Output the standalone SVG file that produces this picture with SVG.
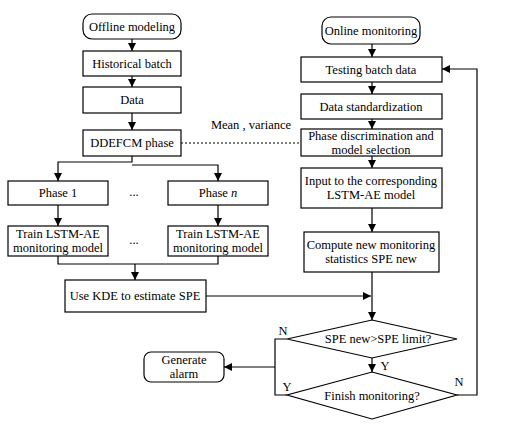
<svg xmlns="http://www.w3.org/2000/svg" width="514" height="425" viewBox="0 0 514 425" font-family="'Liberation Serif', 'Times New Roman', 'DejaVu Serif', serif">
<defs>
<marker id="ar" markerWidth="8" markerHeight="8" refX="8" refY="4" orient="auto" markerUnits="userSpaceOnUse">
<path d="M0,0 L8,4 L0,8 Z" fill="#000"/>
</marker>
<style>
.b{fill:#fff;stroke:#000;stroke-width:1.2}
.t{font-family:'Liberation Serif','Times New Roman','DejaVu Serif',serif;font-size:12.5px;fill:#000;text-anchor:middle}
.l{fill:none;stroke:#000;stroke-width:1.2}
.d{fill:none;stroke:#000;stroke-width:1;stroke-dasharray:2,2}
</style>
</defs>
<rect width="514" height="425" fill="#fff"/>
<g id="connectors">
<path class="l" d="M132,39 V51" marker-end="url(#ar)"/>
<path class="l" d="M132,76 V87" marker-end="url(#ar)"/>
<path class="l" d="M132,113 V130" marker-end="url(#ar)"/>
<path class="l" d="M132,156 V162 H58 V181" marker-end="url(#ar)"/>
<path class="l" d="M132,165 H218 V181" marker-end="url(#ar)"/>
<path class="l" d="M58,205 V226" marker-end="url(#ar)"/>
<path class="l" d="M218,205 V226" marker-end="url(#ar)"/>
<path class="l" d="M58,256 V264 H218 V256"/>
<path class="l" d="M135,264 V280" marker-end="url(#ar)"/>
<path class="d" d="M181,143 H301"/>
<text class="t" x="251" y="129">Mean , variance</text>
<path class="l" d="M372,44 V57" marker-end="url(#ar)"/>
<path class="l" d="M372,82 V94" marker-end="url(#ar)"/>
<path class="l" d="M372,119 V129" marker-end="url(#ar)"/>
<path class="l" d="M372,156 V168" marker-end="url(#ar)"/>
<path class="l" d="M372,208 V232" marker-end="url(#ar)"/>
<path class="l" d="M372,272 V320" marker-end="url(#ar)"/>
<path class="l" d="M206,296 H371" marker-end="url(#ar)"/>
<path class="l" d="M372,358 V372" marker-end="url(#ar)"/>
<path class="l" d="M287,339 H275 V395 H287"/>
<path class="l" d="M275,367 H224" marker-end="url(#ar)"/>
<path class="l" d="M457,395 H477 V69 H442" marker-end="url(#ar)"/>
<text class="t" x="283" y="335">N</text>
<text class="t" x="385" y="370">Y</text>
<text class="t" x="287" y="391">Y</text>
<text class="t" x="459" y="386">N</text>
</g>
<g id="offline">
<rect class="b" x="83" y="14" width="98" height="25" rx="9"/>
<text class="t" x="132" y="31">Offline modeling</text>
</g>
<g id="historical">
<rect class="b" x="83" y="51" width="98" height="25"/>
<text class="t" x="132" y="68">Historical batch</text>
</g>
<g id="data">
<rect class="b" x="83" y="87" width="98" height="26"/>
<text class="t" x="132" y="104">Data</text>
</g>
<g id="ddefcm">
<rect class="b" x="83" y="130" width="98" height="26"/>
<text class="t" x="132" y="147">DDEFCM phase</text>
</g>
<g id="phase1">
<rect class="b" x="8" y="181" width="100" height="24"/>
<text class="t" x="58" y="197">Phase 1</text>
</g>
<g id="dots1"><text class="t" x="134" y="196">...</text></g>
<g id="phasen">
<rect class="b" x="168" y="181" width="100" height="24"/>
<text class="t" x="218" y="197">Phase <tspan font-style="italic">n</tspan></text>
</g>
<g id="train1">
<rect class="b" x="8" y="226" width="100" height="30"/>
<text class="t" x="58" y="238">Train LSTM-AE</text>
<text class="t" x="58" y="252">monitoring model</text>
</g>
<g id="dots2"><text class="t" x="134" y="244">...</text></g>
<g id="trainn">
<rect class="b" x="168" y="226" width="100" height="30"/>
<text class="t" x="218" y="238">Train LSTM-AE</text>
<text class="t" x="218" y="252">monitoring model</text>
</g>
<g id="kde">
<rect class="b" x="65" y="280" width="141" height="32"/>
<text class="t" x="135" y="300">Use KDE to estimate SPE</text>
</g>
<g id="online">
<rect class="b" x="322" y="17" width="98" height="27" rx="9"/>
<text class="t" x="371" y="35">Online monitoring</text>
</g>
<g id="testing">
<rect class="b" x="301" y="57" width="141" height="25"/>
<text class="t" x="371" y="74">Testing batch data</text>
</g>
<g id="standard">
<rect class="b" x="301" y="94" width="141" height="25"/>
<text class="t" x="371" y="111">Data standardization</text>
</g>
<g id="phasedisc">
<rect class="b" x="301" y="129" width="141" height="27"/>
<text class="t" x="371" y="140">Phase discrimination and</text>
<text class="t" x="371" y="154">model selection</text>
</g>
<g id="input">
<rect class="b" x="301" y="168" width="141" height="40"/>
<text class="t" x="371" y="185">Input to the corresponding</text>
<text class="t" x="371" y="199">LSTM-AE model</text>
</g>
<g id="compute">
<rect class="b" x="304" y="232" width="135" height="40"/>
<text class="t" x="371" y="249">Compute new monitoring</text>
<text class="t" x="371" y="263">statistics SPE new</text>
</g>
<g id="spelimit">
<polygon class="b" points="372,320 457,339 372,358 287,339"/>
<text class="t" x="378" y="343">SPE new&gt;SPE limit?</text>
</g>
<g id="finish">
<polygon class="b" points="372,372 457,395 372,419 287,395"/>
<text class="t" x="372" y="400">Finish monitoring?</text>
</g>
<g id="alarm">
<rect class="b" x="144" y="352" width="80" height="30" rx="7"/>
<text class="t" x="184" y="364">Generate</text>
<text class="t" x="184" y="378">alarm</text>
</g>
</svg>
